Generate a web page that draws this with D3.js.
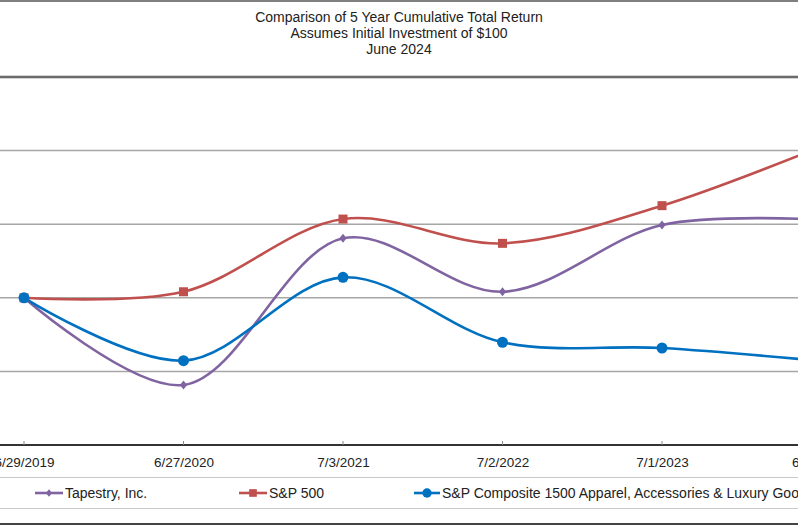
<!DOCTYPE html>
<html>
<head>
<meta charset="utf-8">
<script src="https://cdn.jsdelivr.net/npm/d3@7"></script>
<style>
  html, body { margin: 0; padding: 0; background: #fff; overflow: hidden; }
  svg { display: block; }
  text { font-family: "Liberation Sans", Arial, sans-serif; fill: #222; }
</style>
</head>
<body>
<svg id="chart" width="798" height="525"></svg>
<script>
const titleLines = ["Comparison of 5 Year Cumulative Total Return", "Assumes Initial Investment of $100", "June 2024"];
const categories = ["6/29/2019", "6/27/2020", "7/3/2021", "7/2/2022", "7/1/2023", "6/29/2024"];
const seriesNames = ["Tapestry, Inc.", "S&P 500", "S&P Composite 1500 Apparel, Accessories & Luxury Goods"];
const tapestry = [100, 40.8, 140.4, 104.1, 149.5, 153];
const sp500 = [100, 104.1, 153.5, 137, 162.6, 202.8];
const spApparel = [100, 57.3, 113.9, 69.8, 65.9, 57];
const yTicks = [0, 50, 100, 150, 200, 250];

const svg = d3.select("#chart");
const W = 798, H = 525;

const x = d3.scalePoint().domain(categories).range([24, 821.5]).padding(0);
const y = d3.scaleLinear().domain([0, 250]).range([445, 77]);

// top border
svg.append("line").attr("x1", 0).attr("x2", W).attr("y1", 1).attr("y2", 1)
  .attr("stroke", "#555").attr("stroke-width", 1.5);

// title
svg.append("g").selectAll("text").data(titleLines).join("text")
  .attr("x", 399).attr("y", (d, i) => 22 + i * 16)
  .attr("text-anchor", "middle")
  .style("font-family", "'Liberation Sans Narrow', 'Liberation Sans', Arial, sans-serif")
  .style("font-size", "14px")
  .text(d => d);

// gridlines
svg.append("g").selectAll("line").data(yTicks.filter(t => t > 0 && t < 250)).join("line")
  .attr("x1", 0).attr("x2", W)
  .attr("y1", d => y(d)).attr("y2", d => y(d))
  .attr("stroke", "#a6a6a6").attr("stroke-width", 1.5);

// top plot border (double line)
svg.append("line").attr("x1", 0).attr("x2", W).attr("y1", y(250)).attr("y2", y(250))
  .attr("stroke", "#555").attr("stroke-width", 2.5);
svg.append("line").attr("x1", 0).attr("x2", W).attr("y1", y(250)).attr("y2", y(250))
  .attr("stroke", "#999").attr("stroke-width", 0.7);

// x axis
const xAxis = d3.axisBottom(x).tickSize(0).tickPadding(12);
const gx = svg.append("g").attr("transform", `translate(0,${y(0)})`).call(xAxis);
gx.select(".domain").remove();
gx.selectAll("text").style("font-size", "13.5px").style("font-family", "'Liberation Sans', Arial, sans-serif").attr("fill", "#222");
svg.append("line").attr("x1", 0).attr("x2", W).attr("y1", y(0)).attr("y2", y(0))
  .attr("stroke", "#333").attr("stroke-width", 2);
svg.append("g").selectAll("line").data(categories).join("line")
  .attr("x1", d => x(d)).attr("x2", d => x(d))
  .attr("y1", y(0) - 4).attr("y2", y(0))
  .attr("stroke", "#888").attr("stroke-width", 1);

// separator lines
svg.append("line").attr("x1", 0).attr("x2", W).attr("y1", 477.5).attr("y2", 477.5)
  .attr("stroke", "#c8c8c8").attr("stroke-width", 1.2);
svg.append("line").attr("x1", 0).attr("x2", W).attr("y1", 508.5).attr("y2", 508.5)
  .attr("stroke", "#c8c8c8").attr("stroke-width", 1.2);
svg.append("line").attr("x1", 0).attr("x2", W).attr("y1", 524).attr("y2", 524)
  .attr("stroke", "#444").attr("stroke-width", 2);

const series = [
  { name: seriesNames[0], values: tapestry, color: "#8064A2", marker: "diamond" },
  { name: seriesNames[1], values: sp500, color: "#C0504D", marker: "square" },
  { name: seriesNames[2], values: spApparel, color: "#0070C0", marker: "circle" }
];

const line = d3.line()
  .x((d, i) => x(categories[i]))
  .y(d => y(d))
  .curve(d3.curveCatmullRom.alpha(0.5));

function drawMarker(g, type, cx, cy, color, scale) {
  const s = scale || 1;
  if (type === "square") {
    g.append("rect").attr("x", cx - 4.5 * s).attr("y", cy - 4.5 * s)
      .attr("width", 9 * s).attr("height", 9 * s).attr("fill", color);
  } else if (type === "circle") {
    g.append("circle").attr("cx", cx).attr("cy", cy).attr("r", 5.5 * s).attr("fill", color);
  } else {
    const r = 4.5 * s;
    g.append("path").attr("d", `M${cx},${cy - r}L${cx + r * 0.8},${cy}L${cx},${cy + r}L${cx - r * 0.8},${cy}Z`)
      .attr("fill", color);
  }
}

const plot = svg.append("g");
series.forEach(s => {
  plot.append("path").datum(s.values)
    .attr("d", line).attr("fill", "none")
    .attr("stroke", s.color).attr("stroke-width", 2.6);
});
series.forEach(s => {
  const g = plot.append("g");
  s.values.forEach((v, i) => drawMarker(g, s.marker, x(categories[i]), y(v), s.color));
});

// legend
const legendX = [35, 239, 414];
const legendTextGap = [30, 30, 28];
const legend = svg.append("g");
series.forEach((s, i) => {
  const lx = legendX[i];
  const ly = 493;
  legend.append("line").attr("x1", lx).attr("x2", lx + legendTextGap[i] - 2).attr("y1", ly).attr("y2", ly)
    .attr("stroke", s.color).attr("stroke-width", 2.6);
  drawMarker(legend, s.marker, lx + (legendTextGap[i] - 2) / 2, ly, s.color, 0.85);
  legend.append("text").attr("x", lx + legendTextGap[i]).attr("y", ly + 5)
    .style("font-size", "14px").text(s.name);
});
</script>
</body>
</html>
